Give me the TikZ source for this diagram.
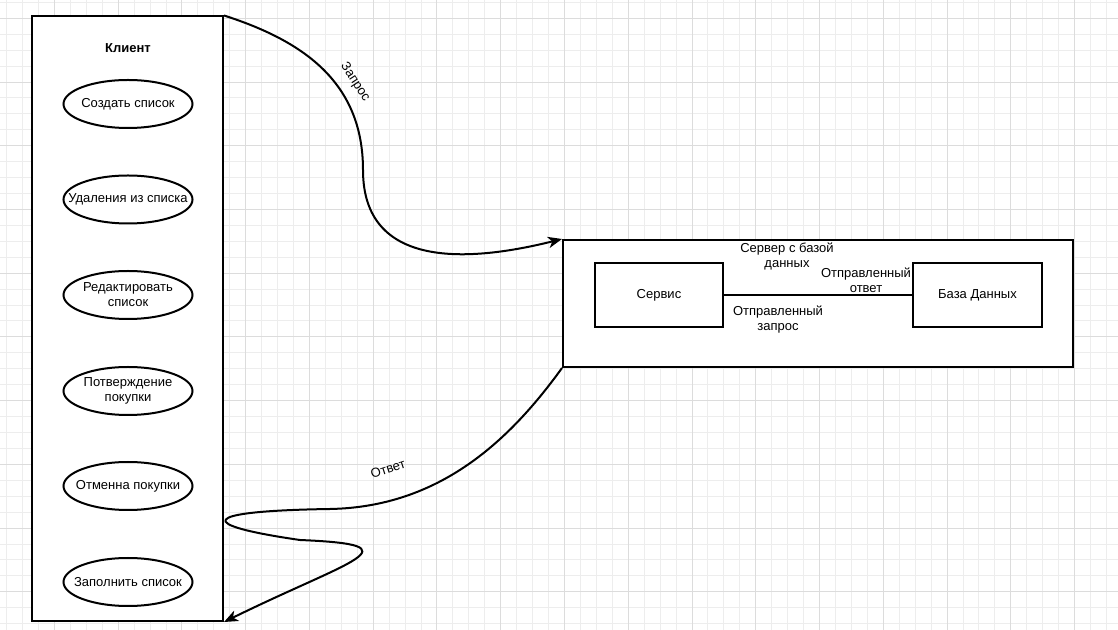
\documentclass[tikz,border=0pt]{standalone}
\usepackage{fontspec}
\setmainfont{Liberation Sans}
\usetikzlibrary{shapes.geometric,arrows.meta}

\definecolor{gridminor}{HTML}{EDEDED}
\definecolor{gridmajor}{HTML}{DCDCDC}

\begin{document}
\begin{tikzpicture}[x=0.75pt,y=-0.75pt,
  font=\fontsize{9.75}{11.25}\selectfont,
  minorline/.style={draw=gridminor,line width=0.75pt},
  majorline/.style={draw=gridmajor,line width=0.75pt},
  box/.style={draw=black,fill=white,line width=1.5pt,inner sep=0pt,align=center},
  usecase/.style={ellipse,draw=black,fill=white,line width=1.5pt,inner sep=0pt,
    minimum width=96.75pt,minimum height=36pt,
    label={[inner sep=0pt,align=center]center:#1}},
  lbl/.style={inner sep=1pt,align=center},
  edge/.style={draw=black,line width=1.5pt,-{Stealth[length=10.5pt,width=8.5pt,inset=3pt]}}]

\useasboundingbox (0,0) rectangle (1118,630);
\fill[white] (0,0) rectangle (1118,630);

% background grid
\foreach \i in {0,...,70} \draw[minorline] ({6.6+15.94*\i},0) -- ({6.6+15.94*\i},630);
\foreach \i in {0,...,39} \draw[minorline] (0,{2.4+15.93*\i}) -- (1118,{2.4+15.93*\i});
\foreach \i in {0,...,17} \draw[majorline] ({54.4+63.76*\i},0) -- ({54.4+63.76*\i},630);
\foreach \i in {0,...,9} \draw[majorline] (0,{18.3+63.73*\i}) -- (1118,{18.3+63.73*\i});

% client side
\node[box,minimum width=143.25pt,minimum height=453.4pt] (client) at (127.5,318.75) {};
\node[lbl,font=\fontsize{9.75}{11.25}\selectfont\bfseries] (clienttitle) at (128,48) {Клиент};
\node[usecase={Создать список}] (uc1) at (128,104) {};
\node[usecase={Удаления из списка}] (uc2) at (128,199.5) {};
\node[usecase={Редактировать\\список}] (uc3) at (128,295) {};
\node[usecase={Потверждение\\покупки}] (uc4) at (128,391) {};
\node[usecase={Отменна покупки}] (uc5) at (128,486) {};
\node[usecase={Заполнить список}] (uc6) at (128,582) {};

% server side
\node[box,minimum width=382.5pt,minimum height=95.25pt] (server) at (818,303.5) {};
\node[lbl] (servertitle) at (787,256) {Сервер с базой\\данных};
\node[box,minimum width=96pt,minimum height=48pt] (service) at (659,295) {Сервис};
\node[box,minimum width=96.75pt,minimum height=48pt] (db) at (977.5,295) {База Данных};
\draw[line width=1.5pt] (service.east) -- (db.west);
\node[lbl] (sentanswer) at (866,280) {Отправленный\\ответ};
\node[lbl] (sentrequest) at (778,320) {Отправленный\\запрос};

% request and answer flows
\draw[edge] (client.north east) .. controls (300,40) and (363,80) .. (363,170)
  .. controls (363,270) and (470,262) .. (server.north west);
\node[lbl,rotate=-57] (reqlabel) at (355,82) {Запрос};

\draw[edge] (server.south west) .. controls (510,440) and (440,507) .. (330,509)
  .. controls (196,511) and (196,525) .. (300,540)
  .. controls (420,545) and (350,560) .. (client.south east);
\node[lbl,rotate=18] (anslabel) at (388,469) {Ответ};

\end{tikzpicture}
\end{document}
